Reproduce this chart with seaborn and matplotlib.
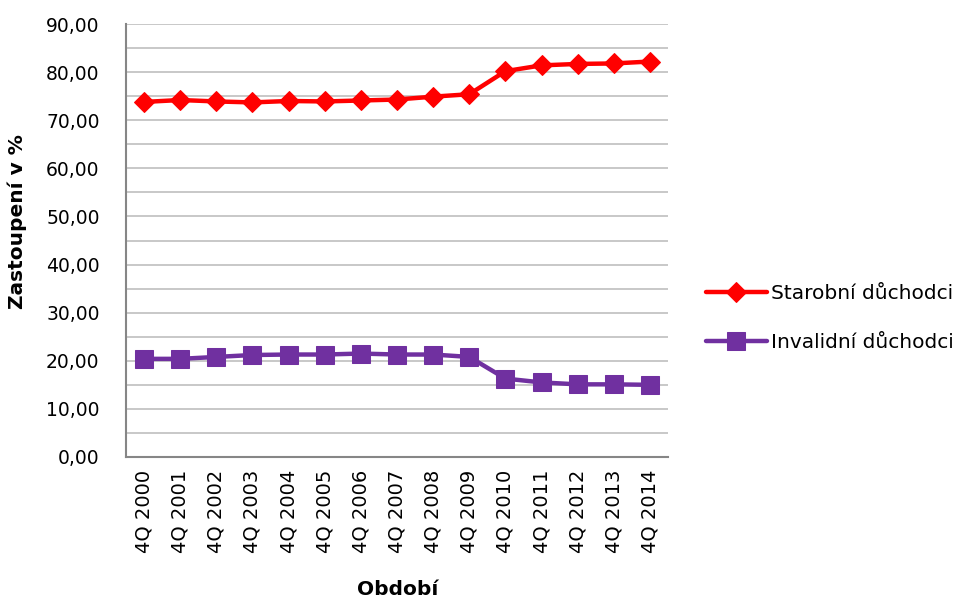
import matplotlib
matplotlib.use("Agg")
import matplotlib.pyplot as plt
from matplotlib.ticker import MultipleLocator, FuncFormatter, FixedLocator
import seaborn as sns
import pandas as pd
import numpy as np

periods = ["4Q 2000", "4Q 2001", "4Q 2002", "4Q 2003", "4Q 2004", "4Q 2005",
           "4Q 2006", "4Q 2007", "4Q 2008", "4Q 2009", "4Q 2010", "4Q 2011",
           "4Q 2012", "4Q 2013", "4Q 2014"]
starobni = [73.8, 74.2, 73.9, 73.7, 74.0, 73.9, 74.1, 74.3, 74.9, 75.4,
            80.2, 81.4, 81.7, 81.8, 82.2]
invalidni = [20.4, 20.4, 20.8, 21.2, 21.3, 21.3, 21.5, 21.3, 21.3, 20.8,
             16.3, 15.5, 15.1, 15.1, 15.0]
series_names = ["Starobní důchodci", "Invalidní důchodci"]

df = pd.DataFrame({
    "Období": periods * 2,
    "pos": list(range(len(periods))) * 2,
    "Zastoupení": starobni + invalidni,
    "Řada": [series_names[0]] * len(periods) + [series_names[1]] * len(periods),
})

sns.set_theme(style="white")
plt.rcParams["font.family"] = ["DejaVu Sans"]
plt.rcParams["text.color"] = "black"
plt.rcParams["axes.labelcolor"] = "black"
plt.rcParams["xtick.color"] = "black"
plt.rcParams["ytick.color"] = "black"

fig = plt.figure(figsize=(9.68, 6.04), dpi=100)
ax = fig.add_axes([126 / 968, 1 - 457 / 604, (668 - 126) / 968, (457 - 24) / 604])

palette = {series_names[0]: "#FF0000", series_names[1]: "#7030A0"}
markers = {series_names[0]: "D", series_names[1]: "s"}
sizes_ms = {series_names[0]: 10, series_names[1]: 12.5}

for name in series_names:
    sub = df[df["Řada"] == name]
    sns.lineplot(data=sub, x="pos", y="Zastoupení", ax=ax, color=palette[name],
                 marker=markers[name], markersize=sizes_ms[name],
                 markeredgecolor=palette[name], linewidth=3.2, label=name,
                 legend=False)

ax.set_xlim(-0.5, len(periods) - 0.5)
ax.set_ylim(0, 90)

ax.yaxis.set_major_locator(MultipleLocator(10))
ax.yaxis.set_minor_locator(MultipleLocator(5))
ax.yaxis.set_major_formatter(FuncFormatter(lambda v, p: f"{v:.2f}".replace(".", ",")))
ax.grid(True, axis="y", which="both", color="#BFBFBF", linewidth=1.2)
ax.grid(False, axis="x")

ax.set_xticks(np.arange(len(periods)))
ax.set_xticklabels(periods, rotation=90, fontsize=14)
ax.xaxis.set_minor_locator(FixedLocator(np.arange(-0.5, len(periods), 1.0)))
ax.tick_params(axis="x", which="major", length=0, pad=9)
ax.tick_params(axis="x", which="minor", length=7, width=1.2, color="#868686", direction="out")
ax.tick_params(axis="y", which="major", length=6, width=1.2, color="#868686",
               direction="out", labelsize=13.5, pad=13)
ax.tick_params(axis="y", which="minor", length=0)

for side in ["top", "right"]:
    ax.spines[side].set_visible(False)
for side in ["left", "bottom"]:
    ax.spines[side].set_color("#868686")
    ax.spines[side].set_linewidth(1.5)

ax.set_xlabel("Období", fontsize=14.5, fontweight="bold")
ax.set_ylabel("Zastoupení v %", fontsize=14.5, fontweight="bold")
ax.xaxis.set_label_coords((398 - 126) / 542, (457 - 580) / 433)
ax.yaxis.set_label_coords((27 - 126) / 542, (457 - 222) / 433)

handles, labels = ax.get_legend_handles_labels()
fig.legend(handles, labels, loc="center left", bbox_to_anchor=(688 / 968, 1 - 318 / 604),
           frameon=False, fontsize=14.5, handlelength=3.0, labelspacing=1.45,
           handletextpad=0.2)

fig.savefig("out.png", dpi=100)
